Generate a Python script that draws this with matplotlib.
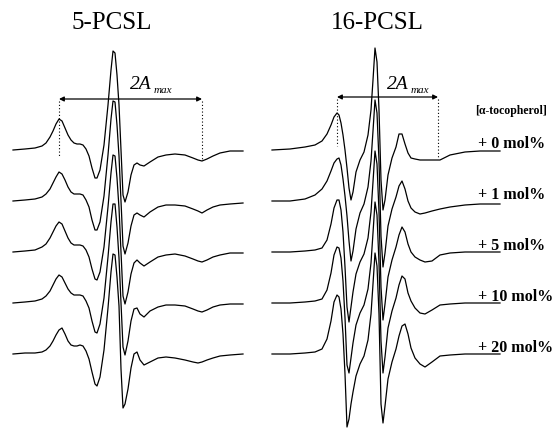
import numpy as np
import matplotlib
matplotlib.use("Agg")
import matplotlib.pyplot as plt

# EPR spectra (x = field position, y = amplitude above baseline)
x_5pcsl = [13, 25, 35, 42, 46, 50, 53, 56, 59, 62,
           65, 68, 71, 74, 77, 80, 83, 86, 89, 92,
           95, 97, 100, 104, 108, 111, 113, 115, 117, 119,
           121, 123, 125, 128, 131, 134, 137, 140, 144, 150,
           158, 166, 175, 185, 193, 198, 202, 207, 213, 220,
           230, 243]
y_5pcsl_0 = [0, 1, 2, 4, 7, 13, 19, 26, 31, 29,
             22, 15, 10, 7, 6, 6, 5, 1, -6, -18,
             -28, -28, -20, 5, 45, 80, 99, 97, 75, 45,
             0, -45, -52, -42, -25, -15, -13, -15, -16, -12,
             -7, -5, -4, -5, -8, -10, -11, -9, -6, -3,
             -1, -1]
y_5pcsl_1 = [0, 1, 2, 4, 7, 12, 18, 24, 29, 27,
             21, 14, 9, 7, 7, 7, 6, 1, -6, -19,
             -29, -29, -21, 5, 46, 82, 100, 99, 76, 45,
             0, -45, -53, -42, -25, -14, -12, -14, -16, -11,
             -6, -4, -4, -5, -8, -10, -12, -9, -6, -4,
             -3, -2]
y_5pcsl_5 = [0, 1, 2, 5, 8, 14, 20, 26, 30, 28,
             21, 14, 9, 7, 7, 7, 6, 2, -5, -17,
             -27, -28, -20, 5, 45, 79, 97, 96, 74, 44,
             0, -44, -52, -40, -22, -11, -8, -11, -14, -10,
             -5, -3, -2, -4, -7, -9, -10, -8, -5, -3,
             -1, -1]
y_5pcsl_10 = [0, 1, 2, 4, 7, 12, 18, 24, 28, 26,
              20, 14, 10, 8, 8, 8, 7, 2, -5, -18,
              -29, -30, -21, 5, 46, 81, 99, 99, 76, 45,
              0, -44, -52, -38, -18, -6, -5, -11, -14, -8,
              -4, -2, -2, -3, -6, -8, -9, -7, -4, -2,
              -1, -1]
y_5pcsl_20 = [0, 1, 1, 2, 4, 8, 13, 19, 24, 26,
              20, 13, 9, 8, 8, 9, 8, 3, -5, -18,
              -30, -32, -23, 4, 46, 82, 100, 99, 77, 48,
              -15, -54, -50, -35, -14, 0, 2, -6, -11, -8,
              -4, -3, -4, -6, -8, -9, -8, -6, -4, -2,
              -1, 0]

x_16pcsl = [272, 290, 305, 315, 322, 327, 331, 334, 337, 339, 341, 343, 345, 347, 349,
            351, 353, 356, 360, 364, 368, 371, 373, 375, 377, 379, 381, 383, 385, 388,
            392, 396, 399, 402, 405, 408, 411, 415, 420, 425, 432, 440, 450, 465, 480, 500]
y_16pcsl_0 = [0, 1, 3, 5, 9, 16, 25, 33, 37, 35, 27, 15, 0, -18, -38,
              -50, -42, -22, -10, -2, 15, 40, 70, 102, 88, 40, -30, -60, -50, -25,
              -8, 3, 16, 16, 6, -3, -8, -9, -10, -10, -10, -10, -5, -2, -1, -1]
y_16pcsl_1 = [0, 0, 2, 6, 12, 20, 30, 38, 42, 43, 36, 22, 5, -15, -40,
              -60, -50, -28, -12, -3, 14, 40, 70, 101, 88, 40, -35, -66, -52, -25,
              -8, 4, 15, 20, 12, 0, -7, -11, -13, -12, -10, -8, -6, -4, -3, -3]
y_16pcsl_5 = [0, 0, 1, 2, 4, 12, 28, 44, 52, 52, 42, 20, -15, -55, -70,
              -55, -40, -22, -10, -2, 14, 40, 70, 101, 88, 40, -35, -68, -52, -25,
              -8, 5, 17, 25, 20, 8, 0, -5, -8, -10, -9, -3, -1, 0, 0, 0]
y_16pcsl_10 = [0, 0, 1, 2, 4, 13, 30, 48, 56, 55, 45, 22, -15, -62, -70,
               -55, -40, -22, -10, -2, 14, 40, 70, 101, 88, 40, -38, -70, -54, -25,
               -8, 5, 18, 27, 24, 10, 2, -5, -10, -11, -7, -2, -1, 0, 0, 0]
y_16pcsl_20 = [0, 0, 1, 2, 5, 15, 33, 52, 59, 57, 45, 20, -20, -73, -65,
               -50, -38, -22, -10, -2, 14, 40, 70, 101, 88, 40, -50, -69, -52, -25,
               -8, 5, 18, 28, 30, 20, 6, -4, -10, -13, -8, -2, -1, 0, 0, 0]

conc_labels = ["+ 0 mol%", "+ 1 mol%", "+ 5 mol%", "+ 10 mol%", "+ 20 mol%"]

left = [y_5pcsl_0, y_5pcsl_1, y_5pcsl_5, y_5pcsl_10, y_5pcsl_20]
right = [y_16pcsl_0, y_16pcsl_1, y_16pcsl_5, y_16pcsl_10, y_16pcsl_20]
baselines = [150, 201, 252, 303, 354]

fig = plt.figure(figsize=(5.53, 4.28), dpi=100)
ax = fig.add_axes([0, 0, 1, 1])
ax.set_xlim(0, 553)
ax.set_ylim(428, 0)
ax.axis("off")

for b, yl, yr in zip(baselines, left, right):
    ax.plot(x_5pcsl, b - np.array(yl), color="black", lw=0.9)
    ax.plot(x_16pcsl, b - np.array(yr), color="black", lw=0.9)

serif = "Liberation Serif"
ax.text(112, 23, "5-PCSL", fontsize=18, family=serif, ha="center", va="center")
ax.text(377, 23, "16-PCSL", fontsize=18, family=serif, ha="center", va="center")

# 2A_max markers
for x0, x1, ya, d0, d1, tx in [(59, 202, 99, 157, 160, 130), (337, 438, 97, 146, 158, 387)]:
    ax.annotate("", xy=(x0, ya), xytext=(x1, ya),
                arrowprops=dict(arrowstyle="<|-|>", color="black", lw=0.9,
                                mutation_scale=7, shrinkA=0, shrinkB=0))
    ax.plot([x0, x0], [ya + 2, d0], color="black", lw=0.8, ls=(0, (1, 2)))
    ax.plot([x1, x1], [ya + 2, d1], color="black", lw=0.8, ls=(0, (1, 2)))
    ax.text(tx, 89, "2A", fontsize=14, family=serif, style="italic", va="baseline")
    ax.text(tx + 24, 93, "max", fontsize=8, family=serif, style="italic", va="baseline")

ax.text(475, 114, "[α-tocopherol]", fontsize=8.5, family=serif, weight="bold", va="baseline")
for b, lab in zip(baselines, conc_labels):
    ax.text(478, b - 2, lab, fontsize=11.5, family=serif, weight="bold", va="baseline")

fig.savefig("out.png", dpi=100)
